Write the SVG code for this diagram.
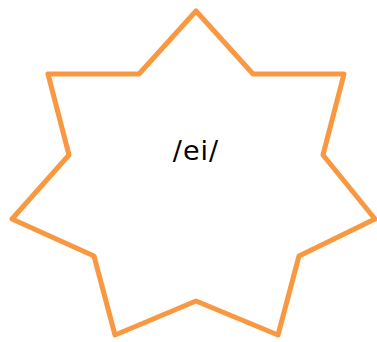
<svg xmlns="http://www.w3.org/2000/svg" width="377" height="342" viewBox="0 0 377 342">
<style>
.star{fill:#ffffff;stroke:#F89942;stroke-width:5;stroke-linejoin:round}
.lbl{font-family:"Comic Sans MS","DejaVu Sans",sans-serif;font-size:27px;fill:#000000;text-anchor:middle;letter-spacing:1px}
</style>
<rect width="377" height="342" fill="#ffffff"/>
<g id="star">
<polygon class="star" points="196,11 253,74 344,74 323,155 375,219 299,256 278,335 196,301 115,335 94,256 12,219 69,155 48,74 139,74"/>
<text class="lbl" x="196" y="160">/ei/</text>
</g>
</svg>
